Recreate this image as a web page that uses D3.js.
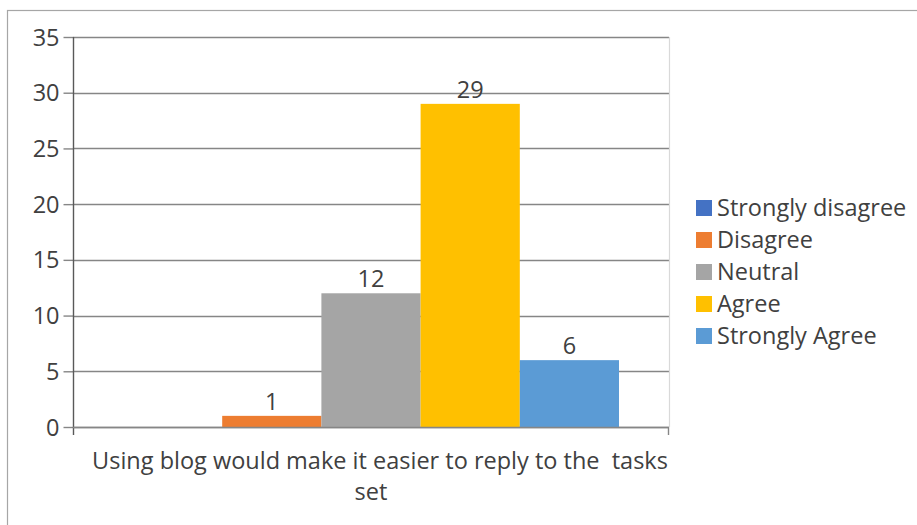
<!DOCTYPE html>
<html>
<head>
<meta charset="utf-8">
<script src="https://cdn.jsdelivr.net/npm/d3@7"></script>
<style>
  html, body { margin: 0; padding: 0; background: #fff; }
  svg text { font-family: "Open Sans", "Liberation Sans", sans-serif; fill: #404040; }
</style>
</head>
<body>
<svg id="chart" width="917" height="525"></svg>
<script>
// Survey responses for one statement, one bar per answer
const category = "Using blog would make it easier to reply to the  tasks set";
const categoryLines = ["Using blog would make it easier to reply to the  tasks", "set"];
const responses = ["Strongly disagree", "Disagree", "Neutral", "Agree", "Strongly Agree"];
const counts = [0, 1, 12, 29, 6];
const colors = ["#4472C4", "#ED7D31", "#A5A5A5", "#FFC000", "#5B9BD5"];
const yTicks = [0, 5, 10, 15, 20, 25, 30, 35];

const FS = "23.5px";
const svg = d3.select("#chart");

// outer chart frame
svg.append("rect")
  .attr("x", 7.5).attr("y", 10.5)
  .attr("width", 930).attr("height", 530)
  .attr("fill", "none").attr("stroke", "#a6a6a6").attr("stroke-width", 1.2);

const plot = { left: 73, right: 669, top: 37, bottom: 427 };

const y = d3.scaleLinear().domain([0, 35]).range([plot.bottom, plot.top]);
const x0 = d3.scaleBand().domain([category]).range([plot.left, plot.right]).paddingInner(0).paddingOuter(0);
const x1 = d3.scaleBand().domain(responses)
  .range([x0(category) + 50, x0(category) + x0.bandwidth() - 50]).padding(0);

// horizontal gridlines
svg.append("g").selectAll("line").data(yTicks).join("line")
  .attr("x1", plot.left).attr("x2", plot.right)
  .attr("y1", d => Math.round(y(d)) + 0.5).attr("y2", d => Math.round(y(d)) + 0.5)
  .attr("stroke", "#868686").attr("stroke-width", 1.4);

// light right edge of the plot area
svg.append("line")
  .attr("x1", plot.right + 0.5).attr("x2", plot.right + 0.5)
  .attr("y1", plot.top).attr("y2", plot.bottom)
  .attr("stroke", "#d9d9d9").attr("stroke-width", 1.2);

// bars
svg.append("g").selectAll("rect").data(responses).join("rect")
  .attr("x", d => x1(d))
  .attr("width", x1.bandwidth())
  .attr("y", (d, i) => y(counts[i]))
  .attr("height", (d, i) => y(0) - y(counts[i]))
  .attr("fill", (d, i) => colors[i]);

// value labels (zero values are left unlabeled)
svg.append("g").selectAll("text").data(responses.filter((d, i) => counts[i] > 0)).join("text")
  .attr("x", d => x1(d) + x1.bandwidth() / 2)
  .attr("y", d => y(counts[responses.indexOf(d)]) - 6)
  .attr("text-anchor", "middle")
  .style("font-size", FS)
  .text(d => counts[responses.indexOf(d)]);

// y axis
const yAxis = d3.axisLeft(y).tickValues(yTicks).tickSize(10).tickPadding(4);
const gy = svg.append("g").attr("transform", `translate(${plot.left + 0.5},0)`).call(yAxis);
gy.select(".domain").remove();
gy.selectAll(".tick line").attr("stroke", "#868686").attr("stroke-width", 1.4);
gy.selectAll(".tick text").style("font-size", FS).attr("fill", "#404040").attr("dy", "0.34em");
svg.append("line")
  .attr("x1", plot.left + 0.5).attr("x2", plot.left + 0.5)
  .attr("y1", plot.top).attr("y2", plot.bottom + 8)
  .attr("stroke", "#595959").attr("stroke-width", 1.4);

// x axis baseline with category boundary ticks
svg.append("line")
  .attr("x1", plot.left).attr("x2", plot.right)
  .attr("y1", y(0) + 0.5).attr("y2", y(0) + 0.5)
  .attr("stroke", "#868686").attr("stroke-width", 1.4);
svg.append("line")
  .attr("x1", plot.right - 0.5).attr("x2", plot.right - 0.5)
  .attr("y1", y(0)).attr("y2", y(0) + 8)
  .attr("stroke", "#868686").attr("stroke-width", 1.4);

// category label (wrapped onto two lines)
const lineShift = [9, 0];
svg.append("g").selectAll("text").data(categoryLines).join("text")
  .attr("x", (d, i) => x0(category) + x0.bandwidth() / 2 + lineShift[i])
  .attr("y", (d, i) => 469 + i * 31)
  .attr("text-anchor", "middle")
  .attr("xml:space", "preserve")
  .style("font-size", FS)
  .text(d => d);

// legend
const legend = svg.append("g").selectAll("g").data(responses).join("g")
  .attr("transform", (d, i) => `translate(696,${200 + i * 32})`);
legend.append("rect")
  .attr("width", 16).attr("height", 16)
  .attr("fill", (d, i) => colors[i]);
legend.append("text")
  .attr("x", 21).attr("y", 16)
  .style("font-size", FS)
  .text(d => d);
</script>
</body>
</html>
